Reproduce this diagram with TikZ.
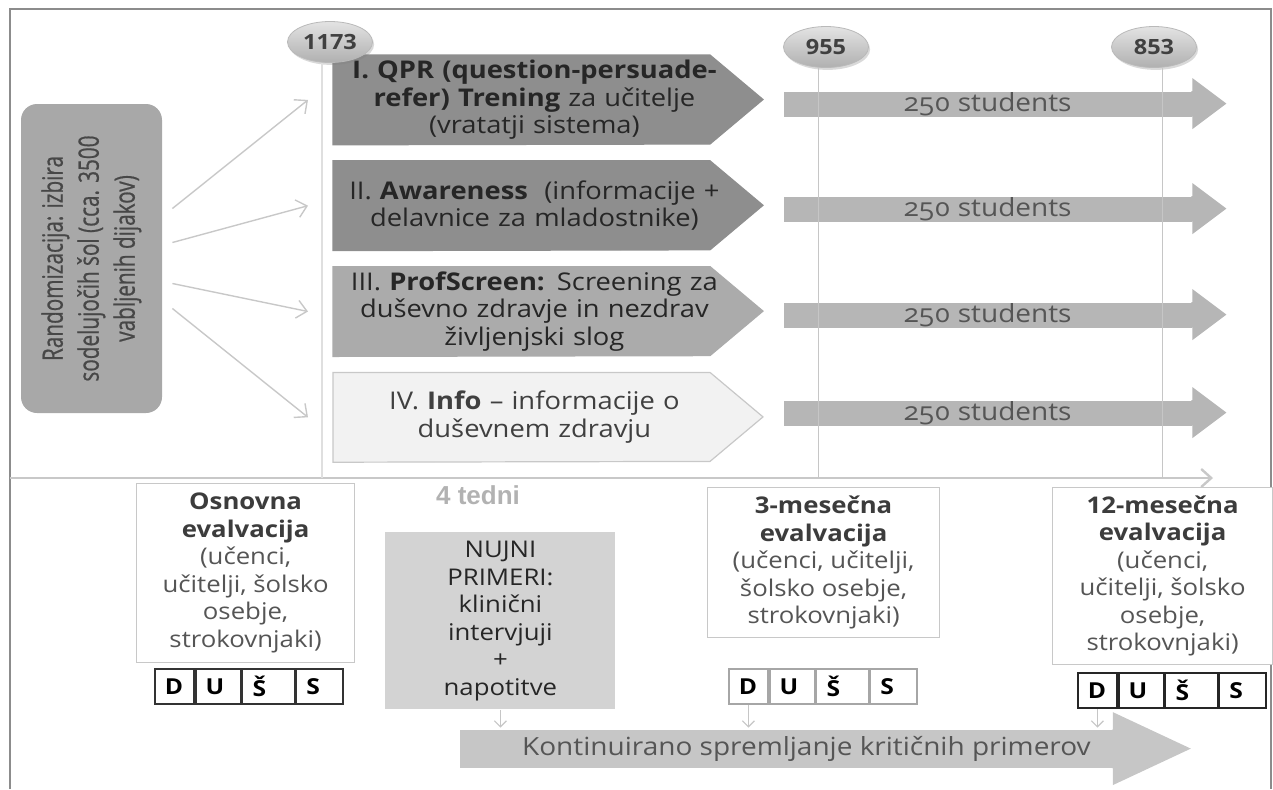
\documentclass[tikz,border=0pt]{standalone}
\usepackage{fontspec}
\usepackage{graphicx}
\setmainfont{Open Sans}[FakeStretch=1.12]
\newfontfamily\narrowfont[FakeStretch=0.74, FakeBold=0.6]{Open Sans}
\newfontfamily\tednifont{Liberation Sans}
\usetikzlibrary{positioning, shapes.geometric, arrows.meta, calc, backgrounds, shadows}
\definecolor{framegrey}{HTML}{8C8C8C}
\definecolor{stagedark}{HTML}{8E8E8E}
\definecolor{stagemid}{HTML}{ABABAB}
\definecolor{stagelight}{HTML}{F2F2F2}
\definecolor{stageedge}{HTML}{C8C8C8}
\definecolor{flowgrey}{HTML}{B6B6B6}
\definecolor{randgrey}{HTML}{A8A8A8}
\definecolor{linegrey}{HTML}{C8C8C8}
\definecolor{textgrey}{HTML}{555555}
\definecolor{headgrey}{HTML}{3C3C3C}
\definecolor{urgentgrey}{HTML}{D3D3D3}
\definecolor{watchgrey}{HTML}{C6C6C6}
\newcommand{\hd}[1]{\textbf{\color{headgrey}#1}}

\begin{document}
\begin{tikzpicture}[
  x=0.5pt, y=-0.5pt,
  font=\fontsize{11.5}{13.75}\selectfont,
  node distance=8pt,
  stagebox/.style={
    rectangle,
    minimum width=201pt,
    minimum height=44.5pt,
    text width=200pt,
    inner xsep=0.5pt, inner ysep=0pt,
    align=center,
    font=\fontsize{12.2}{13.75}\selectfont,
    text=black!85
  },
  flowbar/.style={
    rectangle, fill=flowgrey,
    minimum width=204pt, minimum height=12.5pt,
    inner sep=0pt,
    font=\fontsize{12.5}{14}\selectfont\addfontfeatures{Numbers=OldStyle},
    text=textgrey
  },
  countball/.style={
    ellipse,
    minimum width=42.5pt, minimum height=20.5pt,
    inner sep=0pt,
    top color=gray!22, bottom color=gray!62,
    draw=gray!55, line width=0.4pt,
    drop shadow={opacity=0.3, shadow xshift=0.8pt, shadow yshift=-1.2pt},
    font=\fontsize{10.5}{12}\selectfont\bfseries,
    text=black!75
  },
  evalbox/.style={
    rectangle, draw=linegrey, fill=white,
    line width=0.6pt, inner sep=0pt,
    align=center, text=textgrey, anchor=north west
  },
  cell/.style={
    rectangle, line width=0.9pt,
    text width=#1, align=left,
    minimum height=17.5pt,
    inner xsep=5pt, inner ysep=0pt,
    font=\fontsize{11}{13}\selectfont\bfseries
  },
  fanarrow/.style={
    draw=linegrey, line width=0.7pt,
    -{Straight Barb[length=5pt, width=9pt]}
  },
  smallarrow/.style={
    draw=gray!45, line width=0.6pt,
    -{Straight Barb[length=3pt, width=6pt]},
    shorten >=1pt
  },
  guide/.style={draw=gray!45, line width=0.5pt}
]
  \useasboundingbox (0,0) rectangle (1273,789);

  % --- Frame and time axis ---
  \draw[framegrey, line width=0.8pt] (10,789) -- (10,9) -- (1271,9) -- (1271,789);
  \coordinate (tlstart) at (10,478);
  \coordinate (tlend)   at (1213,478);
  \draw[linegrey, line width=1.2pt, -{Straight Barb[length=5pt, width=9pt]}] (tlstart) -- (tlend);

  % --- Randomisation box ---
  \node[rectangle, rounded corners=8pt, fill=randgrey,
        minimum width=70.5pt, minimum height=154.5pt, inner sep=0pt]
       (rand) at (91.5,258.5)
       {\rotatebox{90}{\narrowfont\fontsize{14}{18}\selectfont\color{black!72}%
        \begin{tabular}{@{}c@{}}Randomizacija: izbira\\sodelujočih šol (cca. 3500\\vabljenih dijakov)\end{tabular}}};

  % --- Four intervention arms, stacked top-down ---
  \node[stagebox, anchor=north west] (q1) at (333,55)
       {\textbf{I. QPR (question-persuade-}\\\textbf{refer) Trening} za učitelje\\(vratatji sistema)};
  \node[stagebox, below=of q1] (q2)
       {II. \textbf{Awareness}~ (informacije +\\delavnice za mladostnike)};
  \node[stagebox, below=of q2] (q3)
       {III. \textbf{ProfScreen:} Screening za\\duševno zdravje in nezdrav\\življenjski slog};
  \node[stagebox, below=of q3, text=black!75] (q4)
       {IV. \textbf{Info} – informacije o\\duševnem zdravju};

  \begin{scope}[on background layer]
    \foreach \n/\c/\d in {q1/stagedark/stagedark, q2/stagedark/stagedark,
                          q3/stagemid/stagemid, q4/stagelight/stageedge}
      \filldraw[fill=\c, draw=\d, line width=0.6pt]
        (\n.north west) -- ++(377,0) -- ++(53,44.5) -- ++(-53,44.5)
        -- (\n.south west) -- cycle;
  \end{scope}

  % Arrows from randomisation to the arms
  \foreach \a/\b in {-50/q1, -16/q2, 25/q3, 50/q4}
    \draw[fanarrow] ($(rand.east)+(10,\a)$) -- ([xshift=-12.5pt]\b.west);

  % --- Follow-up bars ---
  \foreach \i/\y in {1/104, 2/209, 3/315, 4/413}{
    \node[flowbar] (s\i) at (988,\y) {250 students};
    \fill[flowgrey] ([xshift=-0.5pt]s\i.north east) -- ++(1,0) -- ++(0,-13) -- ++(34,25.5)
      -- ++(-34,25.5) -- ++(0,-13) -- ([xshift=-0.5pt]s\i.south east) -- cycle;
  }

  % --- Sample sizes and guide lines ---
  \node[countball] (c1) at (330,42)  {1173};
  \node[countball] (c2) at (826,47)  {955};
  \node[countball] (c3) at (1154,47) {853};
  \coordinate (g1) at ($(c1.south)+(-8,0)$);
  \coordinate (g2) at ($(c2.south)+(-8,0)$);
  \coordinate (g3) at ($(c3.south)+(8,0)$);
  \draw[guide, draw=gray!25, line width=1.2pt] (g1) -- (g1 |- tlstart);
  \draw[guide] (g2) -- (g2 |- tlstart);
  \draw[guide] (g3) -- (g3 |- tlstart);

  % --- Evaluations ---
  \node[evalbox, minimum width=109pt, minimum height=89.5pt] (base) at (136,483)
       {\hd{Osnovna}\\\hd{evalvacija}\\(učenci,\\učitelji, šolsko\\osebje,\\strokovnjaki)};
  \node[evalbox, minimum width=116pt, minimum height=75pt] (three) at (707,487)
       {\hd{3-mesečna}\\\hd{evalvacija}\\(učenci, učitelji,\\šolsko osebje,\\strokovnjaki)};
  \node[evalbox, minimum width=110pt, minimum height=88.5pt] (twelve) at (1052,487)
       {\hd{12-mesečna}\\\hd{evalvacija}\\(učenci,\\učitelji, šolsko\\osebje,\\strokovnjaki)};

  \foreach \p/\x/\y/\c in {a/154/668/black!80, b/728/668/gray!70, c/1077/672/black!85}{
    \node[cell=9.5pt, draw=\c, anchor=north west] (\p1) at (\x,\y) {D};
    \node[cell=12.5pt, draw=\c, right=0pt of \p1] (\p2) {U};
    \node[cell=16pt, draw=\c, right=0pt of \p2] (\p3) {Š};
    \node[cell=13.5pt, draw=\c, right=0pt of \p3] (\p4) {S};
  }

  \node[text=gray!60, font=\tednifont\fontsize{13}{15}\selectfont\bfseries] (weeks) at (478,495) {4 tedni};

  \node[rectangle, fill=urgentgrey, anchor=north west, minimum width=115pt,
        minimum height=88.5pt, inner sep=0pt, align=center, text=black!85]
       (urgent) at (385,532)
       {NUJNI\\PRIMERI:\\klinični\\intervjuji\\+\\napotitve};

  % --- Continuous monitoring ---
  \node[rectangle, fill=watchgrey, anchor=west, minimum width=326pt, minimum height=19pt,
        inner sep=0pt, font=\fontsize{12.5}{14}\selectfont, text=textgrey]
       (watch) at (460,749) {\hspace*{20pt}Kontinuirano spremljanje kritičnih primerov};
  \fill[watchgrey] ([xshift=-0.5pt]watch.north east) -- ++(1,0) -- ++(0,-17.5) -- ++(78,36.5)
    -- ++(-78,36.5) -- ++(0,-17.5) -- ([xshift=-0.5pt]watch.south east) -- cycle;

  \foreach \n in {urgent, b1, c1}
    \draw[smallarrow] (\n.south) -- (\n.south |- watch.north);

\end{tikzpicture}
\end{document}
